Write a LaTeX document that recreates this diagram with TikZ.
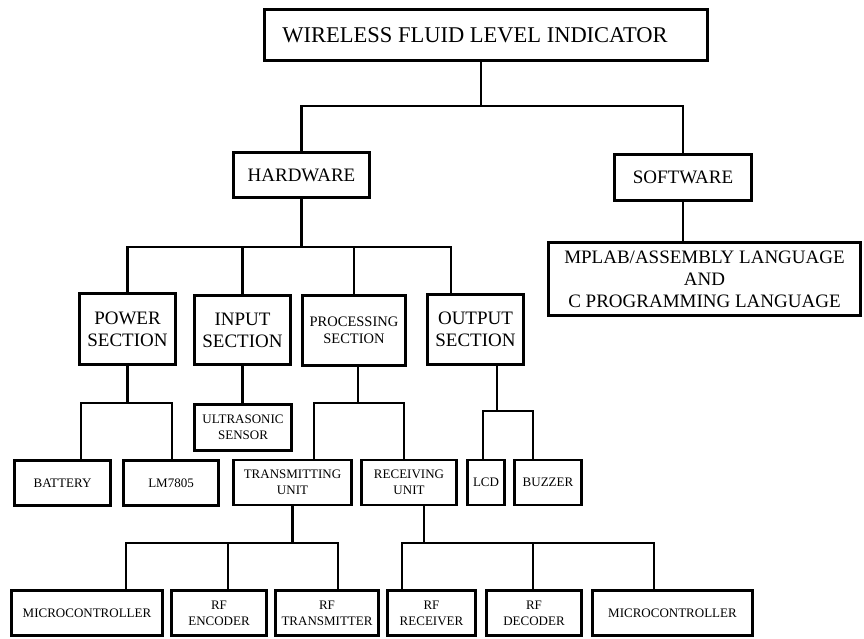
\documentclass[tikz,border=0pt]{standalone}
\usepackage{fontspec}
\setmainfont{Liberation Serif}

\begin{document}
\begin{tikzpicture}[x=1pt,y=-1pt,
        blk/.style={draw, line width=2.6pt, inner sep=0pt, align=center},
        big/.style={blk, font=\fontsize{22.5}{26}\selectfont},
        mid/.style={blk, font=\fontsize{19}{22}\selectfont},
        small/.style={blk, font=\fontsize{13}{16}\selectfont},
        row/.style={small, minimum height=45pt},
        wire/.style={line width=2.6pt}]
                \useasboundingbox (0,0) rectangle (864,639);

                \node[big, minimum width=443pt, minimum height=51pt] (title) at (486,35) {\hspace*{-22pt}WIRELESS FLUID LEVEL INDICATOR};

                \node[mid, minimum width=136pt, minimum height=45pt] (hw) at (301.5,175) {HARDWARE};
                \node[mid, minimum width=137pt, minimum height=46pt] (sw) at (683,177.5) {SOFTWARE};
                \node[mid, minimum width=312pt, minimum height=73pt] (lang) at (704.5,279) {MPLAB/ASSEMBLY LANGUAGE\\AND\\C PROGRAMMING LANGUAGE};

                \node[mid, minimum width=96pt, minimum height=71pt] (pwr) at (127.5,329) {POWER\\SECTION};
                \node[mid, minimum width=96pt, minimum height=69pt] (inp) at (242.5,330) {INPUT\\SECTION};
                \node[blk, font=\fontsize{14.5}{17}\selectfont, minimum width=103pt, minimum height=70pt] (proc) at (354,330.5) {PROCESSING\\SECTION};
                \node[mid, minimum width=96pt, minimum height=70pt] (outp) at (475.5,329.5) {OUTPUT\\SECTION};

                \node[small, minimum width=97pt, minimum height=46pt] (us) at (243,427.5) {ULTRASONIC\\SENSOR};

                \node[row, minimum width=96pt] (bat) at (62.5,483) {BATTERY};
                \node[row, minimum width=95pt] (lm) at (171,483) {LM7805};
                \node[row, minimum width=118pt] (tu) at (292.5,482.5) {TRANSMITTING\\UNIT};
                \node[row, minimum width=95pt] (ru) at (409,482.5) {RECEIVING\\UNIT};
                \node[row, minimum width=37pt] (lcd) at (486,482.5) {LCD};
                \node[row, minimum width=67pt] (buz) at (548,482.5) {BUZZER};

                \node[row, minimum width=151pt] (mc1) at (87,613) {MICROCONTROLLER};
                \node[row, minimum width=95pt] (enc) at (219,613) {RF\\ENCODER};
                \node[row, minimum width=103pt] (tx) at (327,613) {RF\\TRANSMITTER};
                \node[row, minimum width=88pt] (rx) at (431.5,613) {RF\\RECEIVER};
                \node[row, minimum width=95pt] (dec) at (534,613) {RF\\DECODER};
                \node[row, minimum width=160pt] (mc2) at (672.5,613) {MICROCONTROLLER};

                % top level
                \coordinate (j0) at (481,106);
                \draw[wire] (title.south -| j0) -- (j0);
                \draw[wire] (hw.north) |- (j0) -| (sw.north);
                \draw[wire] (sw.south) -- (lang.north -| sw.south);

                % hardware sections
                \coordinate (j1) at (451,247);
                \draw[wire] (hw.south) -- (hw.south |- j1);
                \draw[wire] (pwr.north) |- (j1) -- (outp.north -| j1);
                \draw[wire] (inp.north) -- (inp.north |- j1);
                \draw[wire] (proc.north) -- (proc.north |- j1);

                % power
                \coordinate (j2a) at (81,403);
                \coordinate (j2b) at (172,403);
                \draw[wire] (pwr.south) -- (pwr.south |- j2a);
                \draw[wire] (bat.north -| j2a) -- (j2a) -- (j2b) -- (lm.north -| j2b);

                % input
                \draw[wire] (inp.south) -- (us.north -| inp.south);

                % processing
                \coordinate (j3s) at (358,403);
                \coordinate (j3a) at (314,403);
                \coordinate (j3b) at (404,403);
                \draw[wire] (proc.south -| j3s) -- (j3s);
                \draw[wire] (tu.north -| j3a) -- (j3a) -- (j3b) -- (ru.north -| j3b);

                % output
                \coordinate (j4s) at (497,411);
                \coordinate (j4a) at (483,411);
                \coordinate (j4b) at (533,411);
                \draw[wire] (outp.south -| j4s) -- (j4s);
                \draw[wire] (lcd.north -| j4a) -- (j4a) -- (j4b) -- (buz.north -| j4b);

                % transmitting unit
                \coordinate (j5a) at (126,543);
                \coordinate (j5b) at (228,543);
                \coordinate (j5c) at (338,543);
                \draw[wire] (tu.south) -- (tu.south |- j5a);
                \draw[wire] (mc1.north -| j5a) -- (j5a) -- (j5c) -- (tx.north -| j5c);
                \draw[wire] (enc.north -| j5b) -- (j5b);

                % receiving unit
                \coordinate (j6s) at (424,543);
                \coordinate (j6a) at (402,543);
                \coordinate (j6b) at (533,543);
                \coordinate (j6c) at (654,543);
                \draw[wire] (ru.south -| j6s) -- (j6s);
                \draw[wire] (rx.north -| j6a) -- (j6a) -- (j6c) -- (mc2.north -| j6c);
                \draw[wire] (dec.north -| j6b) -- (j6b);
\end{tikzpicture}
\end{document}
